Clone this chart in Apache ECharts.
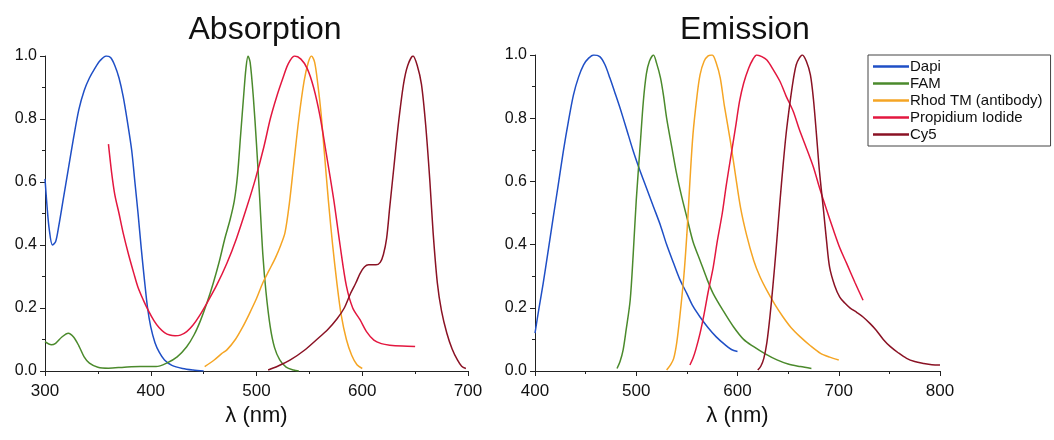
<!DOCTYPE html>
<html>
<head>
<meta charset="utf-8">
<script src="https://cdn.jsdelivr.net/npm/echarts@6/dist/echarts.min.js"></script>
<style>
  html, body { margin: 0; padding: 0; background: #fff; }
  #chart { width: 1054px; height: 440px; }
</style>
</head>
<body>
<div id="chart"></div>
<script>
// dye names and colours
var dyes = ['Dapi', 'FAM', 'Rhod TM (antibody)', 'Propidium Iodide', 'Cy5'];
var colors = ['#1f4fc6', '#4b8a2c', '#f5a524', '#e3173f', '#8a1224'];

// absorption spectra [wavelength nm, normalized]
var absDapi = [[300,0.61],[302,0.52],[304,0.45],[307,0.40],[310,0.41],[313,0.46],[317,0.54],[322,0.64],[327,0.74],[332,0.83],[337,0.89],[342,0.93],[347,0.96],[352,0.985],[358,1.0],[362,0.995],[366,0.97],[370,0.93],[374,0.87],[378,0.79],[382,0.7],[385,0.6],[388,0.5],[391,0.39],[394,0.29],[397,0.2],[400,0.14],[404,0.09],[408,0.06],[413,0.035],[420,0.018],[430,0.008],[440,0.003],[450,0.0]];
var absFam = [[300,0.093],[306,0.083],[310,0.088],[316,0.108],[322,0.12],[327,0.108],[332,0.08],[337,0.045],[342,0.025],[350,0.012],[360,0.009],[375,0.012],[390,0.014],[405,0.014],[415,0.025],[425,0.045],[434,0.077],[441,0.115],[447,0.16],[453,0.215],[459,0.278],[465,0.35],[470,0.42],[475,0.48],[479,0.54],[482,0.62],[485,0.75],[488,0.88],[490,0.96],[492,1.0],[494,0.98],[497,0.87],[500,0.72],[503,0.55],[506,0.37],[509,0.25],[513,0.14],[517,0.075],[522,0.035],[528,0.012],[535,0.003],[540,0.0]];
var absRhod = [[451,0.014],[460,0.035],[467,0.055],[472,0.067],[480,0.1],[487,0.14],[493,0.18],[500,0.23],[506,0.28],[512,0.32],[518,0.36],[523,0.4],[527,0.44],[531,0.53],[535,0.65],[540,0.8],[545,0.92],[549,0.98],[552,1.0],[555,0.98],[558,0.91],[561,0.82],[564,0.7],[568,0.54],[572,0.4],[576,0.28],[580,0.18],[585,0.1],[590,0.05],[595,0.02],[600,0.008]];
var absPi = [[360,0.72],[363,0.63],[366,0.56],[370,0.5],[374,0.437],[379,0.37],[384,0.31],[388,0.265],[393,0.225],[398,0.19],[403,0.16],[408,0.137],[413,0.122],[418,0.114],[423,0.112],[428,0.114],[434,0.125],[440,0.146],[446,0.175],[453,0.215],[462,0.27],[472,0.342],[481,0.42],[491,0.522],[499,0.61],[507,0.712],[513,0.8],[519,0.87],[525,0.93],[530,0.975],[536,1.0],[542,0.99],[548,0.96],[554,0.9],[560,0.81],[566,0.69],[573,0.545],[579,0.4],[585,0.27],[591,0.2],[598,0.162],[604,0.125],[611,0.098],[618,0.087],[626,0.082],[638,0.079],[650,0.078]];
var absCy5 = [[511,0.003],[520,0.015],[532,0.035],[545,0.065],[557,0.1],[567,0.13],[576,0.165],[583,0.2],[589,0.247],[594,0.28],[598,0.31],[602,0.33],[606,0.337],[613,0.337],[617,0.345],[620,0.37],[623,0.42],[626,0.52],[630,0.65],[634,0.78],[639,0.91],[643,0.97],[648,1.0],[652,0.97],[656,0.91],[660,0.78],[664,0.6],[667,0.44],[671,0.28],[675,0.19],[680,0.12],[685,0.07],[690,0.035],[694,0.015],[698,0.008]];

// emission spectra
var emDapi = [[400,0.12],[404,0.2],[408,0.276],[413,0.38],[418,0.486],[423,0.59],[428,0.696],[433,0.79],[438,0.874],[443,0.93],[448,0.969],[453,0.99],[458,1.0],[464,0.995],[469,0.97],[474,0.927],[479,0.88],[484,0.832],[490,0.77],[497,0.696],[503,0.64],[510,0.58],[517,0.52],[524,0.46],[530,0.4],[537,0.34],[543,0.29],[550,0.245],[556,0.205],[563,0.171],[571,0.137],[579,0.108],[587,0.085],[594,0.068],[600,0.062]];
var emFam = [[481,0.008],[484,0.03],[487,0.066],[490,0.13],[494,0.224],[497,0.37],[500,0.54],[504,0.72],[507,0.853],[510,0.94],[513,0.98],[517,1.0],[520,0.975],[524,0.927],[527,0.87],[530,0.8],[535,0.71],[540,0.622],[545,0.55],[550,0.486],[556,0.41],[563,0.35],[570,0.29],[576,0.245],[586,0.19],[596,0.14],[606,0.1],[616,0.077],[627,0.055],[639,0.035],[650,0.022],[662,0.014],[673,0.008]];
var emRhod = [[530,0.003],[534,0.02],[537,0.04],[540,0.09],[543,0.171],[547,0.3],[550,0.433],[553,0.6],[556,0.748],[560,0.87],[563,0.937],[567,0.98],[571,0.997],[575,1.0],[579,0.975],[583,0.927],[587,0.84],[593,0.727],[598,0.62],[603,0.517],[609,0.43],[616,0.35],[622,0.3],[629,0.255],[637,0.21],[645,0.171],[653,0.137],[662,0.108],[672,0.08],[682,0.056],[691,0.044],[700,0.035]];
var emPi = [[553,0.019],[556,0.04],[559,0.07],[563,0.119],[567,0.18],[571,0.25],[576,0.328],[580,0.41],[585,0.5],[589,0.59],[594,0.69],[598,0.77],[602,0.853],[606,0.91],[611,0.958],[615,0.985],[619,1.0],[624,0.995],[629,0.984],[635,0.955],[642,0.916],[648,0.87],[655,0.822],[661,0.765],[668,0.706],[675,0.645],[681,0.58],[688,0.51],[695,0.444],[701,0.39],[708,0.339],[716,0.28],[724,0.224]];
var emCy5 = [[620,0.003],[623,0.015],[626,0.04],[629,0.09],[632,0.171],[635,0.27],[638,0.38],[642,0.539],[645,0.65],[648,0.75],[652,0.853],[655,0.92],[658,0.969],[661,0.99],[664,1.0],[668,0.98],[672,0.937],[675,0.86],[678,0.748],[681,0.63],[685,0.507],[688,0.41],[691,0.328],[696,0.27],[701,0.234],[706,0.215],[711,0.2],[718,0.185],[724,0.171],[731,0.15],[737,0.129],[744,0.1],[751,0.077],[759,0.057],[767,0.04],[775,0.03],[784,0.024],[792,0.02],[800,0.019]];

var absData = [absDapi, absFam, absRhod, absPi, absCy5];
var emData = [emDapi, emFam, emRhod, emPi, emCy5];

var font = 'Liberation Sans, Arial, sans-serif';

function xAx(idx, min, max) {
  return {
    gridIndex: idx, type: 'value', min: min, max: max, interval: 100,
    name: 'λ (nm)', nameLocation: 'middle', nameGap: 25,
    nameTextStyle: { fontSize: 22, color: '#111', fontFamily: font },
    axisLine: { lineStyle: { color: '#222', width: 1 } },
    axisTick: { length: 5, lineStyle: { color: '#222' } },
    minorTick: { show: true, splitNumber: 2, length: 3, lineStyle: { color: '#222' } },
    axisLabel: { fontSize: 17, color: '#111', margin: 12, fontFamily: font },
    splitLine: { show: false }
  };
}
function yAx(idx) {
  return {
    gridIndex: idx, type: 'value', min: 0, max: 1, interval: 0.2,
    axisLine: { show: true, lineStyle: { color: '#222', width: 1 } },
    axisTick: { show: true, length: 5, lineStyle: { color: '#222' } },
    minorTick: { show: true, splitNumber: 2, length: 3, lineStyle: { color: '#222' } },
    axisLabel: { fontSize: 16, color: '#111', margin: 8, fontFamily: font,
      formatter: function (v) { return v.toFixed(1); } },
    splitLine: { show: false }
  };
}

var series = [];
dyes.forEach(function (name, i) {
  series.push({ name: name, type: 'line', xAxisIndex: 0, yAxisIndex: 0, data: absData[i],
    showSymbol: false, smooth: 0.3, lineStyle: { width: 1.5, color: colors[i] }, itemStyle: { color: colors[i] } });
  series.push({ name: name, type: 'line', xAxisIndex: 1, yAxisIndex: 1, data: emData[i],
    showSymbol: false, smooth: 0.3, lineStyle: { width: 1.5, color: colors[i] }, itemStyle: { color: colors[i] } });
});

var chart = echarts.init(document.getElementById('chart'));
chart.setOption({
  backgroundColor: '#fff',
  animation: false,
  title: [
    { text: 'Absorption', left: 260, top: 9, textAlign: 'center',
      textStyle: { fontSize: 32, fontWeight: 'normal', color: '#111', fontFamily: font } },
    { text: 'Emission', left: 740, top: 9, textAlign: 'center',
      textStyle: { fontSize: 32, fontWeight: 'normal', color: '#111', fontFamily: font } }
  ],
  legend: {
    data: dyes, orient: 'vertical', left: 868, top: 55,
    icon: 'rect', itemWidth: 36, itemHeight: 2.5, itemGap: 2,
    borderColor: '#444', borderWidth: 1, padding: [4, 8, 4, 5],
    textStyle: { fontSize: 15, color: '#111', fontFamily: font, padding: [0, 0, 0, -4] }
  },
  grid: [
    { left: 45, right: 586, top: 56, bottom: 69 },
    { left: 535, right: 114, top: 55, bottom: 69 }
  ],
  xAxis: [xAx(0, 300, 700), xAx(1, 400, 800)],
  yAxis: [yAx(0), yAx(1)],
  series: series
});
</script>
</body>
</html>
